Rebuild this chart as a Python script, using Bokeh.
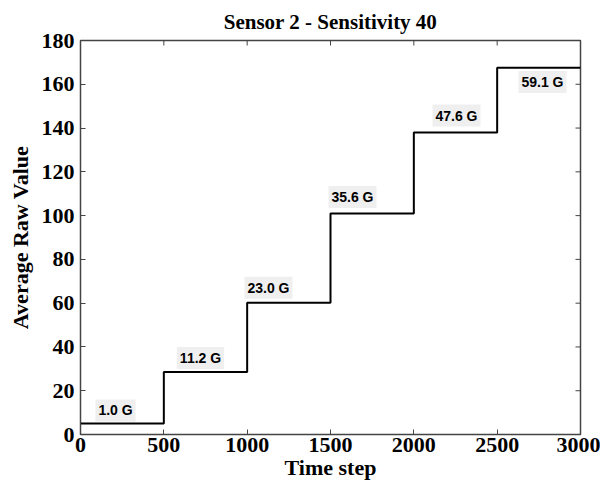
import math
from bokeh.plotting import figure
from bokeh.models import Range1d, Label, FixedTicker
from bokeh.embed import file_html
from bokeh.resources import INLINE

# data
step_starts = [0, 500, 1000, 1500, 2000, 2500]
step_ends = [500, 1000, 1500, 2000, 2500, 3000]
levels = [5.0, 28.5, 60.2, 101.0, 138.0, 167.5]
field_labels = ["1.0 G", "11.2 G", "23.0 G", "35.6 G", "47.6 G", "59.1 G"]
label_x = [210, 720, 1128, 1632, 2256, 2772]
label_y = [11, 35, 67, 108.5, 145.7, 161]
x_ticks = [0, 500, 1000, 1500, 2000, 2500, 3000]
y_ticks = [0, 20, 40, 60, 80, 100, 120, 140, 160, 180]
x_max = 3000
y_max = 180

xs, ys = [], []
for s, e, v in zip(step_starts, step_ends, levels):
    xs += [s, e]
    ys += [v, v]

p = figure(width=600, height=484, output_backend="svg", toolbar_location=None,
           x_range=Range1d(0, x_max), y_range=Range1d(0, y_max),
           title="Sensor 2 - Sensitivity 40",
           min_border_left=80, min_border_right=20, min_border_bottom=50, min_border_top=5)
p.line(xs, ys, line_color="black", line_width=2)

p.title.align = "center"
p.title.text_font = "Liberation Serif"
p.title.text_font_size = "21px"
p.title.text_font_style = "bold"
p.title.text_color = "black"
p.title.standoff = 14

p.grid.visible = False
p.outline_line_color = "#444444"
p.outline_line_width = 1.5

for ax in p.xaxis + p.yaxis:
    ax.major_label_text_font = "Liberation Serif"
    ax.major_label_text_font_style = "bold"
    ax.major_label_text_font_size = "22px"
    ax.major_label_text_color = "black"
    ax.axis_label_text_font = "Liberation Serif"
    ax.axis_label_text_font_style = "bold"
    ax.axis_label_text_font_size = "22px"
    ax.axis_label_text_color = "black"
    ax.major_tick_in = 5
    ax.major_tick_out = 0
    ax.minor_tick_in = 0
    ax.minor_tick_out = 0
    ax.axis_line_color = "#444444"
    ax.major_tick_line_color = "#444444"
p.xaxis.ticker = FixedTicker(ticks=x_ticks)
p.yaxis.ticker = FixedTicker(ticks=y_ticks)
p.xaxis.axis_label = "Time step"
p.yaxis.axis_label = "Average Raw Value"
p.xaxis.axis_label_standoff = 0
p.yaxis.axis_label_standoff = 6
p.xaxis.major_label_standoff = 3
p.yaxis.major_label_standoff = 6

# inward ticks on the top and right edges of the box
p.ray(x=x_ticks, y=[y_max] * len(x_ticks), length=5, length_units="screen",
      angle=-math.pi / 2, line_color="#444444", line_width=1)
p.ray(x=[x_max] * len(y_ticks), y=y_ticks, length=5, length_units="screen",
      angle=math.pi, line_color="#444444", line_width=1)

for t, lx, ly in zip(field_labels, label_x, label_y):
    p.add_layout(Label(x=lx, y=ly, text=t, text_align="center", text_baseline="middle",
                       text_font="Liberation Sans", text_font_style="bold",
                       text_font_size="14px", text_color="black",
                       background_fill_color="#efefef", border_line_color=None,
                       padding=3))

open("out.html", "w").write(file_html(p, INLINE))
